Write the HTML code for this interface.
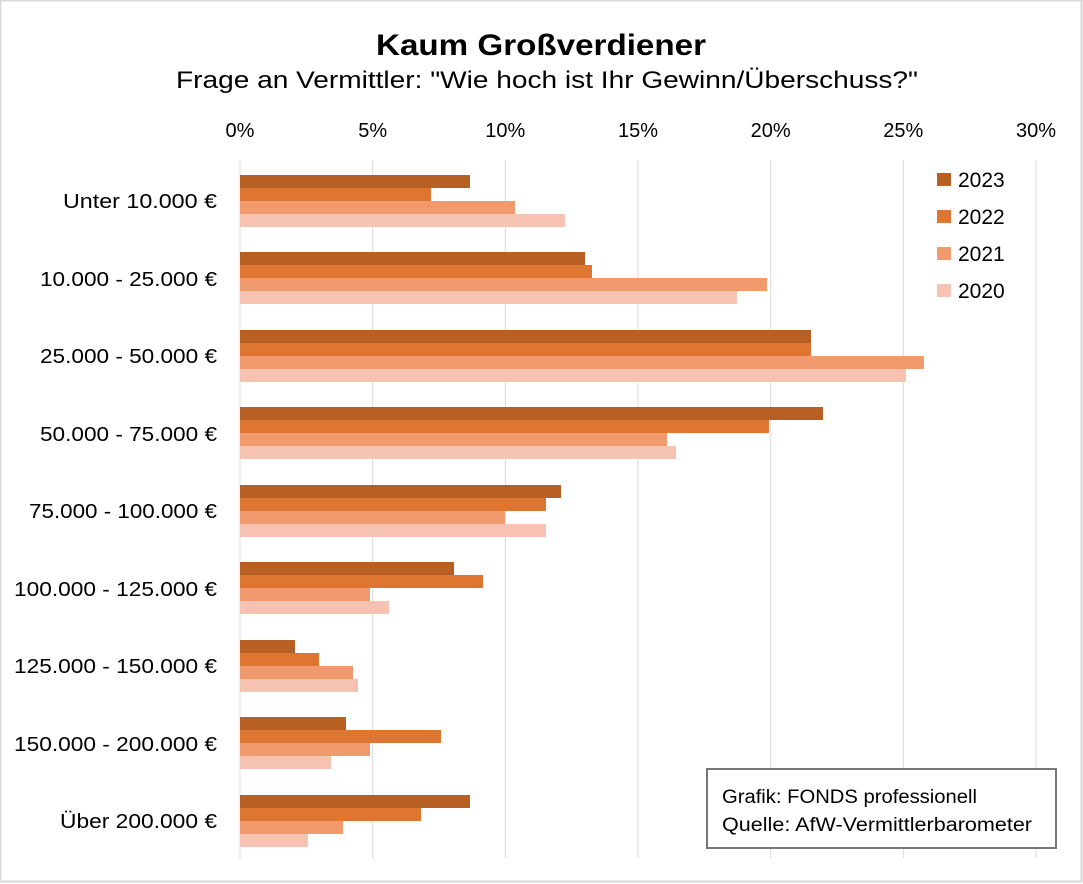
<!DOCTYPE html>
<html><head><meta charset="utf-8"><style>
html,body{margin:0;padding:0;background:#fff}
svg{display:block;font-family:"Liberation Sans",sans-serif}
</style></head><body>
<svg width="1083" height="884" viewBox="0 0 1083 884" xmlns="http://www.w3.org/2000/svg">
<rect x="0.5" y="0.5" width="1081" height="881" fill="#fff" stroke="#d9d9d9" stroke-width="2"/>
<text x="541" y="55" text-anchor="middle" font-size="30" font-weight="bold" textLength="330" lengthAdjust="spacingAndGlyphs">Kaum Großverdiener</text>
<text x="547" y="88" text-anchor="middle" font-size="24" textLength="742" lengthAdjust="spacingAndGlyphs">Frage an Vermittler: "Wie hoch ist Ihr Gewinn/Überschuss?"</text>
<g stroke="#d9d9d9" stroke-width="1">
<line x1="240" y1="160" x2="240" y2="858"/><line x1="372.7" y1="160" x2="372.7" y2="858"/><line x1="505.3" y1="160" x2="505.3" y2="858"/><line x1="638" y1="160" x2="638" y2="858"/><line x1="770.7" y1="160" x2="770.7" y2="858"/><line x1="903.3" y1="160" x2="903.3" y2="858"/><line x1="1036" y1="160" x2="1036" y2="858"/>
</g>
<g font-size="20" text-anchor="middle">
<text x="240" y="137">0%</text><text x="372.7" y="137">5%</text><text x="505.3" y="137">10%</text><text x="638" y="137">15%</text><text x="770.7" y="137">20%</text><text x="903.3" y="137">25%</text><text x="1036" y="137">30%</text>
</g>
<g font-size="20" lengthAdjust="spacingAndGlyphs">
<text x="63" y="208" textLength="154" lengthAdjust="spacingAndGlyphs">Unter 10.000 €</text>
<text x="40" y="286" textLength="177" lengthAdjust="spacingAndGlyphs">10.000 - 25.000 €</text>
<text x="40" y="363" textLength="177" lengthAdjust="spacingAndGlyphs">25.000 - 50.000 €</text>
<text x="40" y="441" textLength="177" lengthAdjust="spacingAndGlyphs">50.000 - 75.000 €</text>
<text x="29" y="518" textLength="188" lengthAdjust="spacingAndGlyphs">75.000 - 100.000 €</text>
<text x="14" y="596" textLength="203" lengthAdjust="spacingAndGlyphs">100.000 - 125.000 €</text>
<text x="14" y="673" textLength="203" lengthAdjust="spacingAndGlyphs">125.000 - 150.000 €</text>
<text x="14" y="751" textLength="203" lengthAdjust="spacingAndGlyphs">150.000 - 200.000 €</text>
<text x="60" y="828" textLength="157" lengthAdjust="spacingAndGlyphs">Über 200.000 €</text>
</g>
<g>
<g fill="#B85F24">
<rect x="240" y="175" width="230" height="13"/><rect x="240" y="252" width="345" height="13"/><rect x="240" y="330" width="571" height="13"/><rect x="240" y="407" width="583" height="13"/><rect x="240" y="485" width="321" height="13"/><rect x="240" y="562" width="214" height="13"/><rect x="240" y="640" width="55" height="13"/><rect x="240" y="717" width="106" height="13"/><rect x="240" y="795" width="230" height="13"/>
</g>
<g fill="#DE7530">
<rect x="240" y="188" width="191" height="13"/><rect x="240" y="265" width="352" height="13"/><rect x="240" y="343" width="571" height="13"/><rect x="240" y="420" width="529" height="13"/><rect x="240" y="498" width="306" height="13"/><rect x="240" y="575" width="243" height="13"/><rect x="240" y="653" width="79" height="13"/><rect x="240" y="730" width="201" height="13"/><rect x="240" y="808" width="181" height="13"/>
</g>
<g fill="#F09A6E">
<rect x="240" y="201" width="275" height="13"/><rect x="240" y="278" width="527" height="13"/><rect x="240" y="356" width="684" height="13"/><rect x="240" y="433" width="427" height="13"/><rect x="240" y="511" width="265" height="13"/><rect x="240" y="588" width="130" height="13"/><rect x="240" y="666" width="113" height="13"/><rect x="240" y="743" width="130" height="13"/><rect x="240" y="821" width="103" height="13"/>
</g>
<g fill="#F6C3B2">
<rect x="240" y="214" width="325" height="13"/><rect x="240" y="291" width="497" height="13"/><rect x="240" y="369" width="666" height="13"/><rect x="240" y="446" width="436" height="13"/><rect x="240" y="524" width="306" height="13"/><rect x="240" y="601" width="149" height="13"/><rect x="240" y="679" width="118" height="13"/><rect x="240" y="756" width="91" height="13"/><rect x="240" y="834" width="68" height="13"/>
</g>
</g>
<g font-size="21">
<rect x="937" y="173" width="14" height="13" fill="#B85F24"/><text x="958" y="187">2023</text>
<rect x="937" y="210" width="14" height="13" fill="#DE7530"/><text x="958" y="224">2022</text>
<rect x="937" y="247" width="14" height="13" fill="#F09A6E"/><text x="958" y="261">2021</text>
<rect x="937" y="284" width="14" height="13" fill="#F6C3B2"/><text x="958" y="298">2020</text>
</g>
<rect x="707" y="769" width="349" height="79" fill="#fff" stroke="#777" stroke-width="2"/>
<text x="722" y="803" font-size="19" textLength="255" lengthAdjust="spacingAndGlyphs">Grafik: FONDS professionell</text>
<text x="722" y="831" font-size="19" textLength="310" lengthAdjust="spacingAndGlyphs">Quelle: AfW-Vermittlerbarometer</text>
</svg>
</body></html>
